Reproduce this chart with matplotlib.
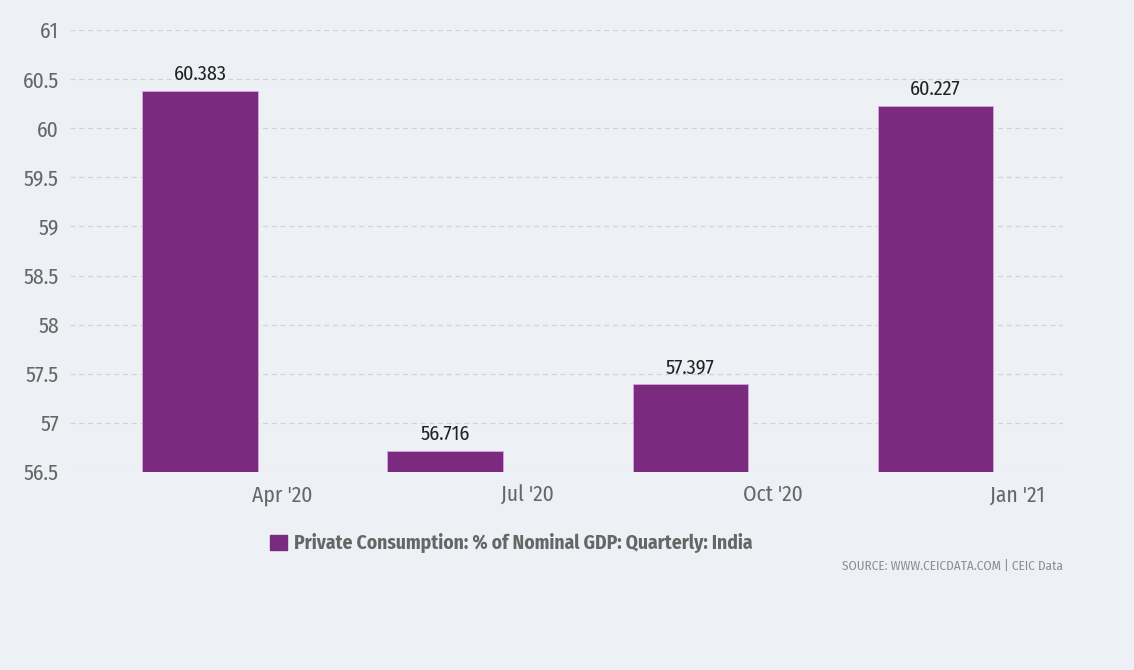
import matplotlib.pyplot as plt
from matplotlib.patches import Patch
from matplotlib import font_manager

quarters = ["Apr '20", "Jul '20", "Oct '20", "Jan '21"]
values = [60.383, 56.716, 57.397, 60.227]
y_ticks = [56.5, 57, 57.5, 58, 58.5, 59, 59.5, 60, 60.5, 61]
series_name = "Private Consumption: % of Nominal GDP: Quarterly: India"

bg = "#edf1f5"
bar_color = "#7a2a7f"

# pick a condensed sans if one is around
names = {f.name for f in font_manager.fontManager.ttflist}
narrow = "DejaVu Sans"
for cand in ["Fira Sans Condensed", "Roboto Condensed", "Open Sans Condensed",
             "Encode Sans Semi Condensed", "PT Sans Narrow", "Archivo Narrow"]:
    if cand in names:
        narrow = cand
        break
plt.rcParams["font.family"] = [narrow, "DejaVu Sans"]

fig = plt.figure(figsize=(11.34, 6.7), dpi=100, facecolor=bg)
ax = fig.add_axes([0.0617, 0.2955, 0.8757, 0.6597], facecolor=bg)

base = y_ticks[0]
x = list(range(len(values)))
ax.bar(x, [v - base for v in values], bottom=base, width=0.47,
       color=bar_color, edgecolor="#d9a6dc", linewidth=0.6, zorder=3)

for xi, v in zip(x, values):
    ax.text(xi, v + 0.07, f"{v:.3f}", ha="center", va="bottom",
            fontsize=14.5, color="#222222", zorder=4)

ax.set_ylim(base, y_ticks[-1])
ax.set_xlim(-0.53, len(values) - 0.48)
ax.set_yticks(y_ticks)
ax.set_yticklabels([f"{t:g}" for t in y_ticks])
ax.set_xticks([xi + 0.335 for xi in x])
ax.set_xticklabels(quarters)
ax.tick_params(axis="both", length=0, labelsize=15.5, colors="#666666")
ax.tick_params(axis="y", pad=8)
ax.tick_params(axis="x", pad=9)

ax.grid(axis="y", color="#cfd4da", linestyle=(0, (4, 3)), linewidth=0.9, zorder=0)
for s in ax.spines.values():
    s.set_visible(False)

handle = Patch(facecolor=bar_color, edgecolor=bar_color)
fig.legend([handle], [series_name], loc="center", bbox_to_anchor=(0.451, 0.189),
           frameon=False, handlelength=0.85, handleheight=0.85, handletextpad=0.4,
           prop={"family": [narrow, "DejaVu Sans"], "weight": "bold", "size": 14},
           labelcolor="#666666")

fig.text(0.9374, 0.154, "SOURCE: WWW.CEICDATA.COM | CEIC Data", ha="right",
         va="center", fontsize=9.5, color="#8a8f96")

fig.savefig("out.png", dpi=100, facecolor=bg)
